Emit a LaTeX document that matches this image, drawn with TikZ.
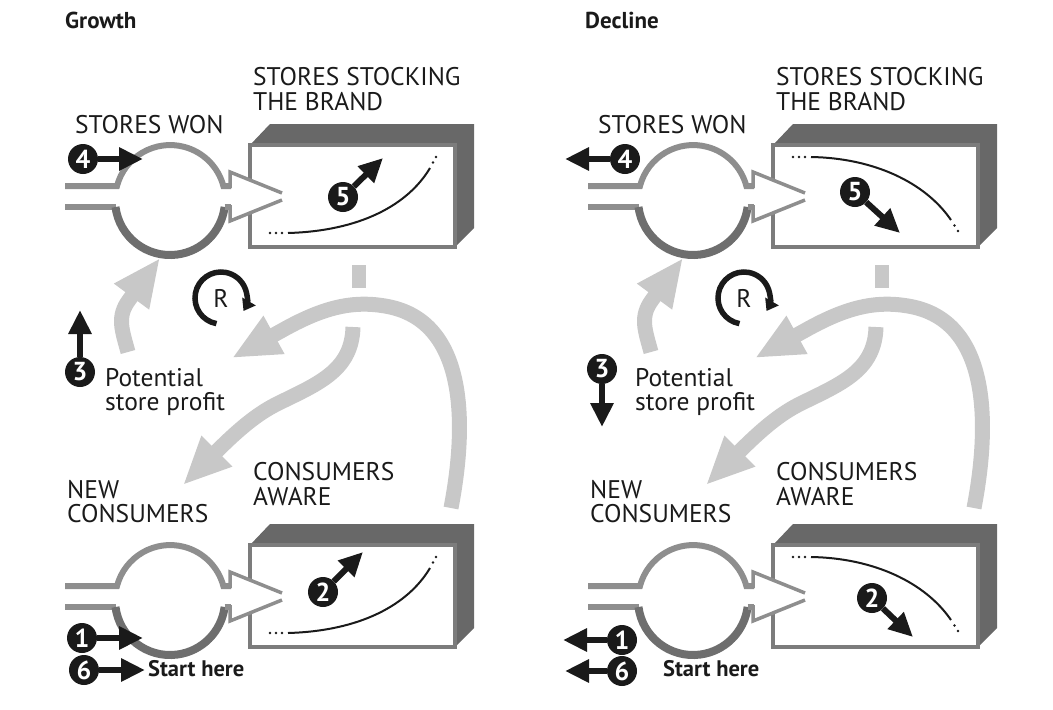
\documentclass[tikz,border=0pt]{standalone}
\usepackage{fontspec}
\setmainfont{PT Sans}
\usetikzlibrary{arrows.meta}

\definecolor{ink}{HTML}{1A1A1A}
\definecolor{pipegray}{HTML}{8E8E8E}
\definecolor{pipedark}{HTML}{6E6E6E}
\definecolor{boxdark}{HTML}{686868}
\definecolor{framegray}{HTML}{7C7C7C}
\definecolor{linkgray}{HTML}{C8C8C8}

\tikzset{
  pipe/.style={draw=pipegray, line width=6pt},
  pipelow/.style={draw=pipedark, line width=8pt},
  valve/.style={draw=pipegray, line width=3.5pt, line join=miter},
  boxside/.style={fill=boxdark},
  boxface/.style={fill=white, draw=framegray, line width=4.5pt},
  trend/.style={draw=ink, line width=2pt},
  trenddot/.style={fill=ink},
  link/.style={draw=linkgray, line width=15pt, -{Triangle[length=48pt,width=40pt]}},
  linkstub/.style={draw=linkgray, line width=14pt},
  badge/.style={circle, fill=ink, text=white, inner sep=0pt, minimum size=30pt,
                font=\bfseries\fontsize{26}{26}\selectfont},
  badgearrow/.style={draw=ink, line width=6pt, -{Triangle[length=24pt,width=22pt]}},
  loopmark/.style={draw=ink, line width=5.5pt, -{Triangle[length=11pt,width=15pt]}},
  label/.style={anchor=base west, inner sep=0pt, text=ink, font=\fontsize{25.5}{25.5}\selectfont},
  headline/.style={anchor=base west, inner sep=0pt, text=ink, font=\bfseries\fontsize{23}{23}\selectfont},
  startnote/.style={anchor=base west, inner sep=0pt, text=ink, font=\bfseries\fontsize{22.5}{22.5}\selectfont},
}

% one stock: 3-D box, inflow pipe, valve circle and valve arrow
\newcommand\stockunit[1]{%
  \fill[boxside] (250,145) -- (270,124) -- (474,124) -- (474,228) -- (455,247) -- cycle;
  \draw[boxface] (250,145) rectangle (455,247);
  \coordinate (#1box) at (352,196);
  \fill[white] (224,186) -- (230,186) -- (230,172) -- (282,193) -- (282,200)
               -- (230,221) -- (230,207) -- (224,207) -- cycle;
  \draw[pipe] (65,186) -- (117,186) arc[start angle=194.8, end angle=345.2, radius=55] -- (231,186);
  \draw[pipe] (65,207) -- (115.5,207);
  \draw[pipelow] (115.5,207) arc[start angle=172.7, end angle=7.3, radius=55];
  \draw[pipe] (224.5,207) -- (231,207);
  \draw[valve] (230,188) -- (230,172) -- (282,193);
  \draw[valve] (230,205) -- (230,221) -- (282,200);
}

% rising and falling trend inside a stock box
\newcommand\riseline{%
  \foreach \x in {270,276,282} \fill[trenddot] (\x,233) circle[radius=1.4];
  \draw[trend] (288,233) .. controls (360,231) and (408,205) .. (430,168);
  \fill[trenddot] (433,162.5) circle[radius=1.4] (436,157) circle[radius=1.4];
}
\newcommand\fallline{%
  \foreach \x in {270,276,282} \fill[trenddot] (\x,157) circle[radius=1.4];
  \draw[trend] (288,157) .. controls (350,158) and (402,182) .. (428,220);
  \fill[trenddot] (431.5,225.5) circle[radius=1.4] (435,231) circle[radius=1.4];
}

% labels and feedback links shared by both panels
\newcommand\panelcommon[1]{%
  \node[label] (#1won) at (75,133) {STORES WON};
  \node[label] (#1stockA) at (253,85) {STORES STOCKING};
  \node[label] (#1stockB) at (253,110) {THE BRAND};
  \node[label] (#1newA) at (67,498) {NEW};
  \node[label] (#1newB) at (67,522) {CONSUMERS};
  \node[label] (#1awareA) at (253,480) {CONSUMERS};
  \node[label] (#1awareB) at (253,505) {AWARE};
  % profit -> stores won
  \coordinate (#1profitfoot) at (128,352);
  \coordinate (#1wontip) at (160,258);
  \draw[link] (#1profitfoot) .. controls (122,330) and (116.6,316.8) .. (129,300) -- (#1wontip);
  % consumers aware -> profit
  \coordinate (#1awarefoot) at (451,508);
  \coordinate (#1profittip) at (232,358);
  \draw[link] (#1awarefoot) .. controls (466,430) and (470,320) .. (385,306)
              .. controls (350,300) and (320,309) .. (281,331) -- (#1profittip);
  % stores stocking -> new consumers, passing under the other link
  \coordinate (#1stubtop) at (359,265);
  \coordinate (#1stubend) at (359,288);
  \draw[linkstub] (#1stubtop) -- (#1stubend);
  \coordinate (#1stockfoot) at (353,327);
  \coordinate (#1newtip) at (183,485);
  \draw[link] (#1stockfoot) .. controls (352,368) and (322,382) .. (285,400)
              .. controls (268,408) and (251,417) .. (217,451) -- (#1newtip);
  % reinforcing loop marker
  \node[label, anchor=center] (#1R) at (221,298) {R};
  \draw[loopmark] (#1R.center) ++(100:26) arc[start angle=100, end angle=390, radius=26];
}

\begin{document}
\begin{tikzpicture}[x=1pt,y=-1pt]
\useasboundingbox (0,0) rectangle (1053,710);

%% Growth panel
\node[headline] (gtitle) at (65,28) {Growth};
\stockunit{gu}\riseline
\begin{scope}[shift={(0,400)}]
  \stockunit{gl}\riseline
\end{scope}
\panelcommon{g}
\node[label] (gprofitA) at (105,386) {Potential};
\node[label] (gprofitB) at (105,410) {store profit};
\node[startnote] (gstart) at (148,676) {Start here};

\node[badge] (gb4) at (83,159) {4};  \coordinate (gt4) at (143,159);
\node[badge] (gb5) at (343,197) {5}; \coordinate (gt5) at (383,158);
\node[badge] (gb3) at (80,372) {3};  \coordinate (gt3) at (80,310);
\node[badge] (gb1) at (82,638) {1};  \coordinate (gt1) at (143,638);
\node[badge] (gb6) at (84,670) {6};  \coordinate (gt6) at (145,670);
\node[badge] (gb2) at (323,592) {2}; \coordinate (gt2) at (363,552);
\foreach \n in {1,...,6} \draw[badgearrow] (gb\n) -- (gt\n);

%% Decline panel
\begin{scope}[shift={(523,0)}]
  \node[headline] (dtitle) at (62,28) {Decline};
  \stockunit{du}\fallline
  \begin{scope}[shift={(0,400)}]
    \stockunit{dl}\fallline
  \end{scope}
  \panelcommon{d}
  \node[label] (dprofitA) at (112,386) {Potential};
  \node[label] (dprofitB) at (112,410) {store profit};
  \node[startnote] (dstart) at (140,676) {Start here};

  \node[badge] (db4) at (102,159) {4}; \coordinate (dt4) at (42,159);
  \node[badge] (db5) at (332,192) {5}; \coordinate (dt5) at (377,233);
  \node[badge] (db3) at (79,369) {3};  \coordinate (dt3) at (79,427);
  \node[badge] (db1) at (99,640) {1};  \coordinate (dt1) at (40,640);
  \node[badge] (db6) at (99,671) {6};  \coordinate (dt6) at (42,671);
  \node[badge] (db2) at (349,598) {2}; \coordinate (dt2) at (390,637);
  \foreach \n in {1,...,6} \draw[badgearrow] (db\n) -- (dt\n);
\end{scope}
\end{tikzpicture}
\end{document}
